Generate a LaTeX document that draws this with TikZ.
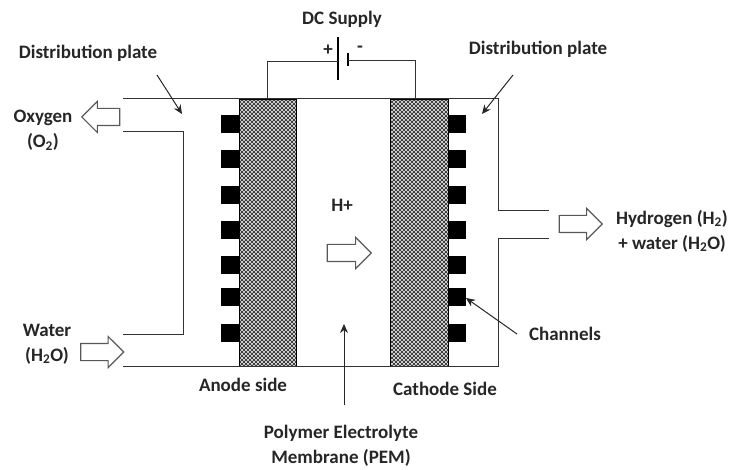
\documentclass[tikz,border=0pt]{standalone}
\usepackage{fontspec}
\setmainfont{Carlito}
\usetikzlibrary{shapes.arrows}
\usetikzlibrary{patterns}
\usetikzlibrary{arrows.meta}
\pgfdeclarepatternformonly{meshdots}{\pgfqpoint{-1pt}{-1pt}}{\pgfqpoint{5pt}{5pt}}{\pgfqpoint{4pt}{4pt}}{
\pgfsetlinewidth{0.75pt}
\pgfpathmoveto{\pgfqpoint{-1pt}{-1pt}}
\pgfpathlineto{\pgfqpoint{5pt}{5pt}}
\pgfpathmoveto{\pgfqpoint{-1pt}{5pt}}
\pgfpathlineto{\pgfqpoint{5pt}{-1pt}}
\pgfusepath{stroke}
}
\tikzset{
lbl/.style={font=\bfseries\fontsize{19}{25}\selectfont, text=black!85, inner sep=0pt, align=center},
wall/.style={draw=black!80, line width=1pt},
plate/.style={draw=black, line width=0.8pt, pattern=meshdots, pattern color=black!75},
chan/.style={fill=black, draw=none},
flow/.style={shape=single arrow, draw=black!65, fill=white, line width=1.1pt, inner xsep=0pt, inner ysep=8pt, single arrow head extend=7pt, anchor=tip},
ptr/.style={draw=black!85, line width=1pt, -{Stealth[length=9pt,width=8pt]}}
}
\begin{document}
\begin{tikzpicture}[x=1pt,y=-1pt]
\useasboundingbox (0,0) rectangle (733,470);
\node[lbl] (dc) at (342,19) {DC Supply};
\node[lbl] (plus) at (328,50) {+};
\node[lbl] (minus) at (360,49) {-};
\node[lbl] (distl) at (88,53) {Distribution plate};
\node[lbl] (distr) at (538,49) {Distribution plate};
\node[lbl] (oxy) at (43,130) {Oxygen\\(O\textsubscript{2})};
\node[lbl] (wat) at (47,344) {Water\\(H\textsubscript{2}O)};
\node[lbl] (hplus) at (342,205) {H+};
\node[lbl] (hyd) at (672,231) {Hydrogen (H\textsubscript{2})\\+ water (H\textsubscript{2}O)};
\node[lbl] (chn) at (565,334) {Channels};
\node[lbl] (anode) at (243,385) {Anode side};
\node[lbl] (cath) at (445,389) {Cathode Side};
\node[lbl] (pem) at (341,446) {Polymer Electrolyte\\Membrane (PEM)};

\node[plate, minimum width=57pt, minimum height=267pt, inner sep=0pt] (elecl) at (267.5,232.5) {};
\node[plate, minimum width=58pt, minimum height=267pt, inner sep=0pt] (elecr) at (419.5,232.5) {};
\foreach \y in {115,150,186,221,256,288,324} {
\fill[chan] (221,\y) rectangle (239,\y+18);
\fill[chan] (449,\y) rectangle (466,\y+18);
}

\draw[wall] (123,99) -- (498,99) -- (498,211) -- (549,211);
\draw[wall] (549,239) -- (498,239) -- (498,366) -- (123,366);
\draw[wall] (123,131.5) -- (183,131.5) -- (183,334.5) -- (123,334.5);

\coordinate (bata) at (338,37);
\coordinate (batb) at (338,80);
\coordinate (batc) at (348,53);
\coordinate (batd) at (348,66);
\coordinate (wirer) at (415.5,99);
\draw[line width=2pt] (bata) -- (batb);
\draw[line width=2pt] (batc) -- (batd);
\draw[wall] (elecl.north) -- (267.5,61.5) -- (338,61.5);
\draw[wall] (wirer) -- (415.5,61) -- (348,61);

\node[flow, minimum height=38pt, shape border rotate=180] (oxyarr) at (81,117) {};
\node[flow, minimum height=43pt] (watarr) at (124.5,352) {};
\node[flow, minimum height=44pt] (harr) at (372,253) {};
\node[flow, minimum height=43pt] (hydarr) at (603,224) {};

\coordinate (distlstart) at (157,75);
\coordinate (distlend) at (182,114);
\coordinate (distrstart) at (513,75);
\coordinate (distrend) at (482,114);
\coordinate (chnstart) at (517,334);
\coordinate (chnend) at (466,298);
\coordinate (pemstart) at (344,405);
\coordinate (pemend) at (344,324);
\draw[ptr] (distlstart) -- (distlend);
\draw[ptr] (distrstart) -- (distrend);
\draw[ptr] (chnstart) -- (chnend);
\draw[ptr] (pemstart) -- (pemend);
\end{tikzpicture}
\end{document}
